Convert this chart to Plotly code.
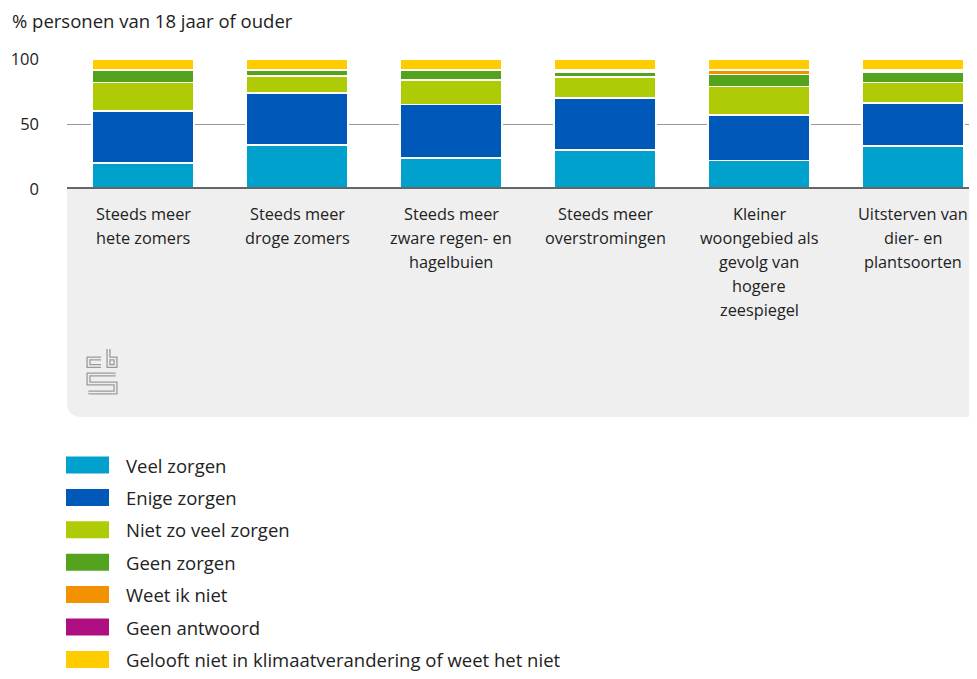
import plotly.graph_objects as go

# ---------------- data ----------------
categories = [
    "Steeds meer<br>hete zomers",
    "Steeds meer<br>droge zomers",
    "Steeds meer<br>zware regen- en<br>hagelbuien",
    "Steeds meer<br>overstromingen",
    "Kleiner<br>woongebied als<br>gevolg van<br>hogere<br>zeespiegel",
    "Uitsterven van<br>dier- en<br>plantsoorten",
]
series_names = [
    "Veel zorgen",
    "Enige zorgen",
    "Niet zo veel zorgen",
    "Geen zorgen",
    "Weet ik niet",
    "Geen antwoord",
    "Gelooft niet in klimaatverandering of weet het niet",
]
veel_zorgen = [20, 34, 24, 30, 22, 33]
enige_zorgen = [40, 40, 41, 40, 35, 33]
niet_zo_veel = [22, 13, 19, 16, 22, 16]
geen_zorgen = [9, 4, 7, 4, 9, 8]
weet_ik_niet = [0.5, 0.5, 0.5, 1, 3, 1]
geen_antwoord = [0.5, 0.5, 0.5, 1, 1, 1]
gelooft_niet = [8, 8, 8, 8, 8, 8]
series_values = [veel_zorgen, enige_zorgen, niet_zo_veel, geen_zorgen,
                 weet_ik_niet, geen_antwoord, gelooft_niet]
colors = ["#00a1cd", "#0058b8", "#afcb05", "#53a31d", "#f39200", "#af0e80", "#ffcc00"]
y_ticks = [0, 50, 100]
y_title = "% personen van 18 jaar of ouder"

# ---------------- layout geometry ----------------
# page body has an 8px margin: figure pixel = window pixel - 8
OFF = 8
W_FIG, H_FIG = 977 - 2 * OFF, 679 - 2 * OFF
L, T, PH = 67 - OFF, 59 - OFF, 130
PW = W_FIG - L
FONT = "Open Sans"
TXT = "#222222"
PANEL = "#efefef"
STEP = 154  # pixels per category


def px(x):
    """window x pixel -> paper x"""
    return (x - OFF - L) / PW


def py(y):
    """window y pixel -> paper y"""
    return (T + PH - (y - OFF)) / PH


fig = go.Figure()
xs = list(range(len(categories)))
for name, vals, col in zip(series_names, series_values, colors):
    fig.add_trace(go.Bar(
        x=xs, y=vals, name=name, width=0.66,
        marker=dict(color=col, line=dict(color="white", width=1.5)),
        showlegend=False, hoverinfo="name+y",
    ))

shapes = []
# grey panel below the axis (rounded bottom-left corner)
r = 15
top, bot, left, right = 189, 417, 67, 1010
path = (f"M {px(left)},{py(top)} L {px(right)},{py(top)} L {px(right)},{py(bot)} "
        f"L {px(left + r)},{py(bot)} Q {px(left)},{py(bot)} {px(left)},{py(bot - r)} Z")
shapes.append(dict(type="path", xref="paper", yref="paper", path=path,
                   fillcolor=PANEL, line=dict(width=0), layer="below"))
# thick baseline
shapes.append(dict(type="line", xref="paper", yref="y", x0=0, x1=1.1, y0=0, y1=0,
                   line=dict(color="#666666", width=4), layer="above"))

# cbs logo (double-line look)
logo_paths = [
    [(101, 358.5), (88.5, 358.5), (88.5, 366), (101, 366)],
    [(108.5, 349), (108.5, 366), (115.5, 366), (115.5, 358.5), (108.5, 358.5)],
    [(115.5, 374.5), (88.5, 374.5), (88.5, 383.5), (115.5, 383.5), (115.5, 392.5), (88.5, 392.5)],
]
for w, c in [(4.2, "#9a9a9a"), (1.6, PANEL)]:
    for pts in logo_paths:
        d = "M " + " L ".join(f"{px(a)},{py(b)}" for a, b in pts)
        shapes.append(dict(type="path", xref="paper", yref="paper", path=d,
                           line=dict(color=c, width=w), layer="above"))

annotations = []
# y-axis title
annotations.append(dict(text=y_title, xref="paper", yref="paper", x=px(10), y=py(21),
                        xanchor="left", yanchor="middle", showarrow=False,
                        font=dict(family=FONT, size=18.5, color=TXT)))
# category labels, one annotation per line
for i, cat in enumerate(categories):
    for j, line in enumerate(cat.split("<br>")):
        annotations.append(dict(text=line, xref="x", yref="paper", x=i, y=py(214 + 24 * j),
                                xanchor="center", yanchor="middle", showarrow=False,
                                font=dict(family=FONT, size=16.3, color=TXT)))

# legend (slightly tightened so the last entry stays fully visible)
for k, (name, col) in enumerate(zip(series_names, colors)):
    cy = 465 + 32.4 * k
    shapes.append(dict(type="rect", xref="paper", yref="paper",
                       x0=px(66), x1=px(109), y0=py(cy - 8.5), y1=py(cy + 8.5),
                       fillcolor=col, line=dict(width=0)))
    annotations.append(dict(text=name, xref="paper", yref="paper", x=px(124), y=py(cy),
                            xanchor="left", yanchor="middle", showarrow=False,
                            font=dict(family=FONT, size=18.5, color=TXT)))

r0 = -76 / STEP
fig.update_layout(
    width=W_FIG, height=H_FIG,
    margin=dict(l=L, r=0, t=T, b=H_FIG - T - PH, pad=0),
    barmode="stack",
    plot_bgcolor="white", paper_bgcolor="white",
    font=dict(family=FONT, color=TXT),
    shapes=shapes, annotations=annotations,
    xaxis=dict(range=[r0, r0 + PW / STEP], showticklabels=False, showgrid=False,
               zeroline=False, showline=False, fixedrange=True),
    yaxis=dict(range=[0, 100], tickvals=y_ticks, ticks="", showgrid=True,
               gridcolor="#999999", gridwidth=1, zeroline=False, showline=False,
               tickfont=dict(family=FONT, size=16.5, color=TXT),
               ticklabelstandoff=27, fixedrange=True),
)

fig.write_html("out.html")
